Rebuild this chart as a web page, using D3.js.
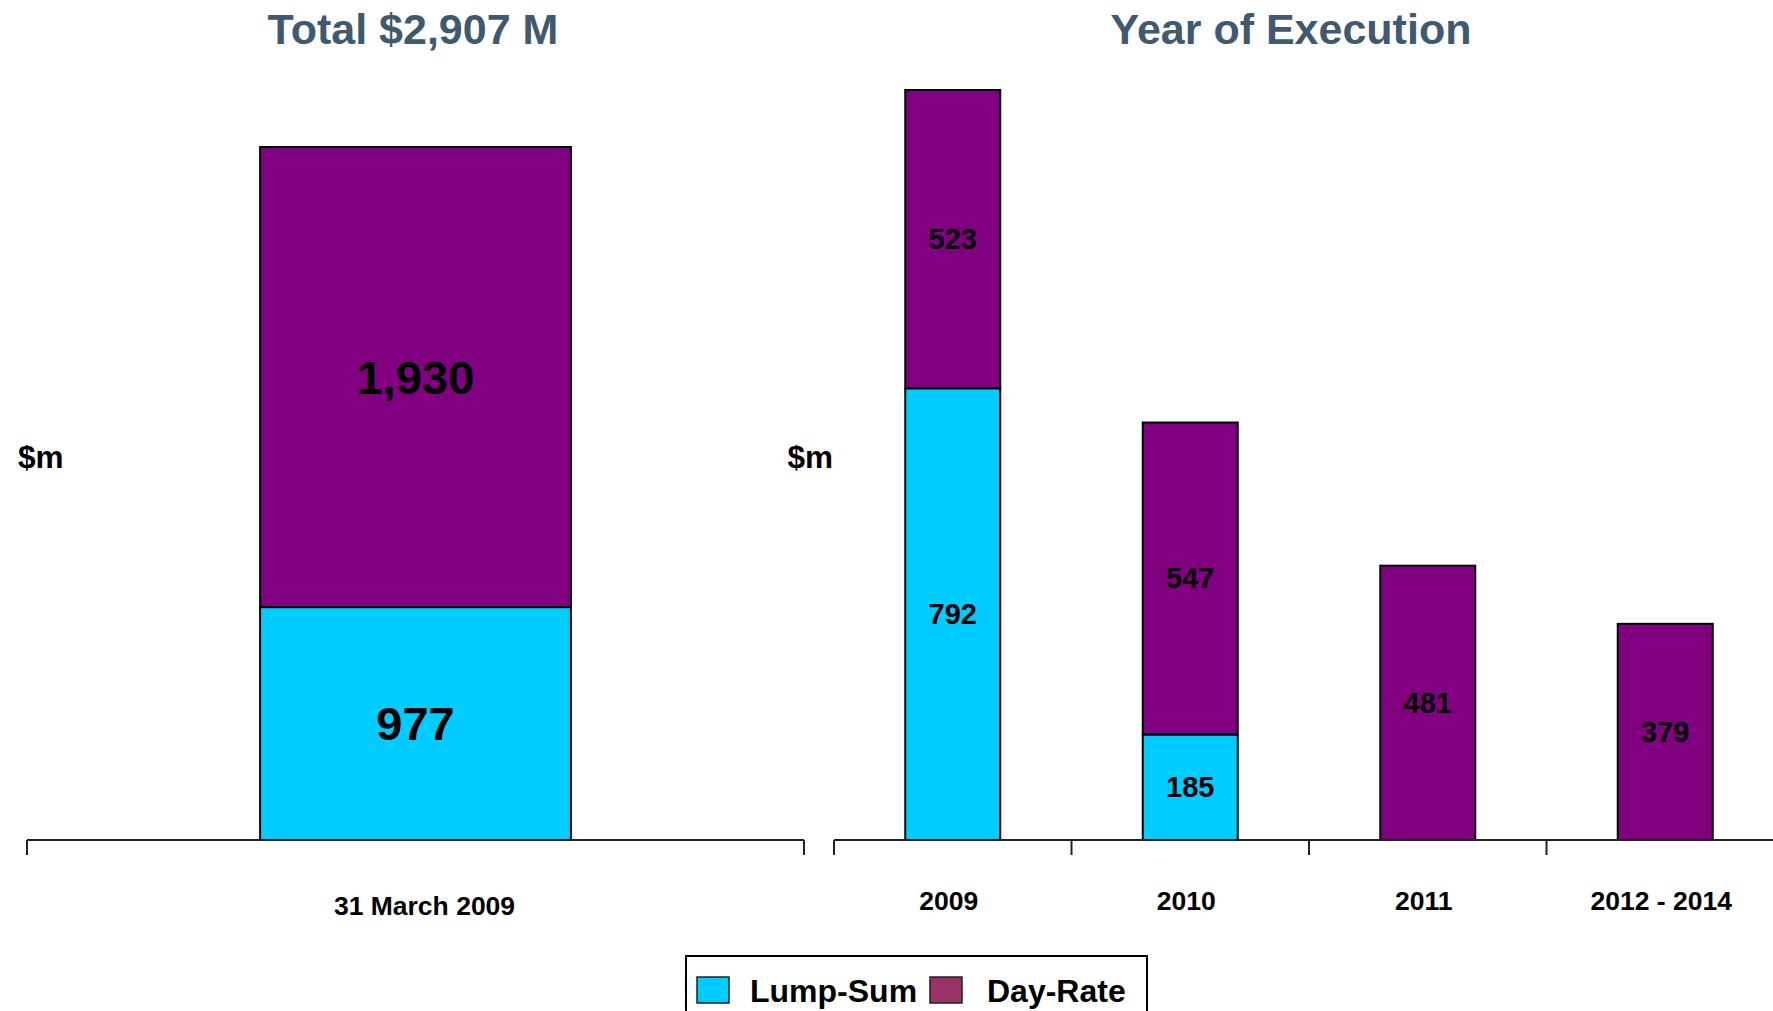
<!DOCTYPE html>
<html>
<head>
<meta charset="utf-8">
<script src="https://cdn.jsdelivr.net/npm/d3@7"></script>
<style>
  body { margin: 0; background: #fff; }
  svg text { font-family: "Liberation Sans", Arial, sans-serif; font-weight: bold; }
</style>
</head>
<body>
<div id="container"></div>
<script>
/* CONSTANTS AND GLOBALS */
const width = 1773,
  height = 1011,
  baseline = 840;

const lumpColor = "#00CCFF",
  dayColor = "#800080",
  dayLegendColor = "#993366",
  titleColor = "#41596F";

/* DATA */
const totalCategories = ["31 March 2009"];
const totalLumpSum = [977];
const totalDayRate = [1930];

const yearCategories = ["2009", "2010", "2011", "2012 - 2014"];
const yearLumpSum = [792, 185, 0, 0];
const yearDayRate = [523, 547, 481, 379];

const legendLabels = ["Lump-Sum", "Day-Rate"];

const fmt = d3.format(",");

const svg = d3.select("#container")
  .append("svg")
  .attr("width", width)
  .attr("height", height);

// draws one stacked panel
function drawPanel(opts) {
  const { categories, lump, day, x0, x1, yTop, title, titleX, labelSize, valueSize, catLabelY, labelDx, unitX, unitAnchor } = opts;

  const xScale = d3.scaleBand()
    .domain(categories)
    .range([x0, x1])
    .paddingInner(0.6)
    .paddingOuter(0.3);

  const maxTotal = d3.max(categories, (c, i) => lump[i] + day[i]);
  const yScale = d3.scaleLinear()
    .domain([0, maxTotal])
    .range([baseline, yTop]);

  const g = svg.append("g");

  // stacked data
  const rows = categories.map((c, i) => ({ cat: c, lump: lump[i], day: day[i] }));
  const stack = d3.stack().keys(["lump", "day"])(rows);
  const colors = { lump: lumpColor, day: dayColor };

  stack.forEach(layer => {
    g.selectAll(null)
      .data(layer.filter(d => d[1] - d[0] > 0))
      .join("rect")
      .attr("x", d => xScale(d.data.cat))
      .attr("width", xScale.bandwidth())
      .attr("y", d => yScale(d[1]))
      .attr("height", d => yScale(d[0]) - yScale(d[1]))
      .attr("fill", colors[layer.key])
      .attr("stroke", "#000")
      .attr("stroke-width", 2);

    g.selectAll(null)
      .data(layer.filter(d => d[1] - d[0] > 0))
      .join("text")
      .attr("x", d => xScale(d.data.cat) + xScale.bandwidth() / 2)
      .attr("y", d => (yScale(d[0]) + yScale(d[1])) / 2)
      .attr("text-anchor", "middle")
      .attr("dominant-baseline", "central")
      .attr("font-size", valueSize)
      .attr("fill", "#000")
      .text(d => fmt(d[1] - d[0]));
  });

  // axis line with ticks at band boundaries
  const step = xScale.step();
  const gap = (step - xScale.bandwidth()) / 2;
  g.append("line")
    .attr("x1", x0).attr("x2", x1)
    .attr("y1", baseline).attr("y2", baseline)
    .attr("stroke", "#222").attr("stroke-width", 2);

  const ticks = categories.map(c => xScale(c) - gap);
  ticks.push(xScale(categories[categories.length - 1]) + xScale.bandwidth() + gap);
  g.selectAll(null)
    .data(ticks)
    .join("line")
    .attr("x1", d => d).attr("x2", d => d)
    .attr("y1", baseline).attr("y2", baseline + 15)
    .attr("stroke", "#222").attr("stroke-width", 2);

  g.selectAll(null)
    .data(categories)
    .join("text")
    .attr("x", d => xScale(d) + xScale.bandwidth() / 2 + labelDx)
    .attr("y", catLabelY)
    .attr("text-anchor", "middle")
    .attr("dominant-baseline", "central")
    .attr("font-size", labelSize)
    .text(d => d);

  // title
  svg.append("text")
    .attr("x", titleX)
    .attr("y", 29)
    .attr("text-anchor", "middle")
    .attr("dominant-baseline", "central")
    .attr("font-size", 43)
    .attr("fill", titleColor)
    .text(title);

  // $m label
  svg.append("text")
    .attr("x", unitX)
    .attr("y", 457)
    .attr("text-anchor", unitAnchor)
    .attr("dominant-baseline", "central")
    .attr("font-size", 31.5)
    .text("$m");
}

drawPanel({
  categories: totalCategories, lump: totalLumpSum, day: totalDayRate,
  x0: 27, x1: 804, yTop: 147,
  title: "Total $" + fmt(totalLumpSum[0] + totalDayRate[0]) + " M", titleX: 413,
  labelSize: 26.5, valueSize: 47, catLabelY: 906, labelDx: 9,
  unitX: 18, unitAnchor: "start"
});

drawPanel({
  categories: yearCategories, lump: yearLumpSum, day: yearDayRate,
  x0: 834, x1: 1784, yTop: 90,
  title: "Year of Execution", titleX: 1291,
  labelSize: 26.5, valueSize: 29, catLabelY: 901, labelDx: -4,
  unitX: 833, unitAnchor: "end"
});

/* LEGEND */
const legend = svg.append("g");
legend.append("rect")
  .attr("x", 686).attr("y", 956)
  .attr("width", 461).attr("height", 70)
  .attr("fill", "#fff")
  .attr("stroke", "#000").attr("stroke-width", 2);

const legendItems = [
  { label: legendLabels[0], color: lumpColor, x: 697, tx: 750 },
  { label: legendLabels[1], color: dayLegendColor, x: 930, tx: 987 }
];
legend.selectAll(null)
  .data(legendItems)
  .join("rect")
  .attr("x", d => d.x).attr("y", 977)
  .attr("width", 32).attr("height", 26)
  .attr("fill", d => d.color)
  .attr("stroke", "#222").attr("stroke-width", 1.5);

legend.selectAll(null)
  .data(legendItems)
  .join("text")
  .attr("x", d => d.tx).attr("y", 991)
  .attr("dominant-baseline", "central")
  .attr("font-size", 32)
  .text(d => d.label);
</script>
</body>
</html>
